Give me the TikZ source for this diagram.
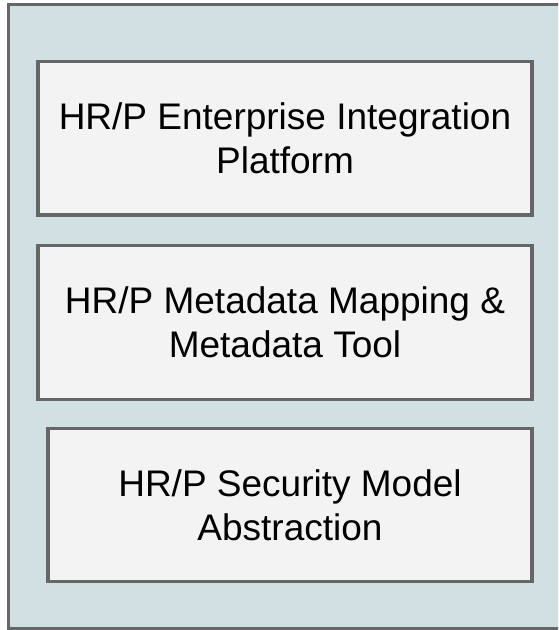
\documentclass[tikz,border=0pt]{standalone}
\usepackage{fontspec}
\setmainfont{Liberation Sans}
\definecolor{outerfill}{HTML}{D0E0E3}
\definecolor{boxfill}{HTML}{F3F3F3}
\definecolor{edge}{HTML}{666666}
\begin{document}
\begin{tikzpicture}[x=1pt,y=-1pt,
  layerbox/.style={draw=edge, fill=boxfill, line width=3.5pt, align=center,
    inner sep=0pt, font=\fontsize{37}{44}\selectfont, text=black}]
\useasboundingbox (0,0) rectangle (558,630);
\clip (0,0) rectangle (558,630);
\draw[draw=edge, fill=outerfill, line width=3pt] (8.5,4.5) rectangle (600,628);
\node[layerbox, minimum width=494pt, minimum height=153.5pt] (b1) at (285,138.25)
  {HR/P Enterprise Integration\\Platform};
\node[layerbox, minimum width=494pt, minimum height=154pt] (b2) at (285,322.5)
  {HR/P Metadata Mapping \&\\Metadata Tool};
\node[layerbox, minimum width=484pt, minimum height=153pt] (b3) at (290,505)
  {HR/P Security Model\\Abstraction};
\end{tikzpicture}
\end{document}
